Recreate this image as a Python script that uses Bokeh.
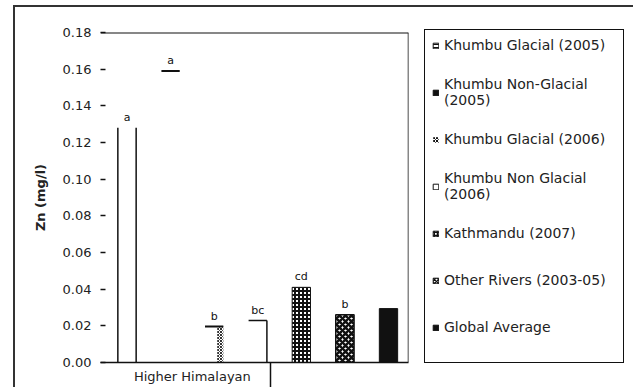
from bokeh.plotting import figure
from bokeh.models import Range1d, FixedTicker, Span, Legend, LegendItem, ColumnDataSource
from bokeh.core.properties import value
from bokeh.embed import file_html
from bokeh.resources import INLINE

# ---- data ----
series = [
    "Khumbu Glacial (2005)",
    "Khumbu Non-Glacial\n(2005)",
    "Khumbu Glacial (2006)",
    "Khumbu Non Glacial\n(2006)",
    "Kathmandu (2007)",
    "Other Rivers (2003-05)",
    "Global Average",
]
zn = [0.128, 0.159, 0.0196, 0.0229, 0.041, 0.026, 0.0294]
letters = ["a", "a", "b", "bc", "cd", "b", ""]
group_label = "Higher Himalayan"
group_size = 4
y_ticks = [0.00, 0.02, 0.04, 0.06, 0.08, 0.10, 0.12, 0.14, 0.16, 0.18]
y_tick_labels = ["0.00", "0.02", "0.04", "0.06", "0.08", "0.10", "0.12", "0.14", "0.16", "0.18"]

FONT = "DejaVu Sans"
INK = "#111111"
xs = list(range(1, len(zn) + 1))
W = 0.42

p = figure(frame_width=308, frame_height=330, output_backend="svg", toolbar_location=None,
           x_range=Range1d(0.392, 7.459), y_range=Range1d(0, 0.18),
           min_border_left=100, min_border_right=225, min_border_top=32, min_border_bottom=25)
p.outline_line_color = None
p.grid.visible = False
p.background_fill_color = "white"
p.border_fill_color = "white"

# outer frame and legend box drawn as page decoration
p.stylesheets = ["""
:host { position: relative; }
:host::before { content: ""; position: absolute; left: 13px; top: 5px; width: 620px; height: 382px;
  border-left: 2px solid #333333; border-top: 2px solid #333333; box-sizing: border-box;
  pointer-events: none; z-index: 10; }
:host::after { content: ""; position: absolute; left: 424px; top: 29px; width: 200px; height: 334px;
  border: 1.5px solid #111111; box-sizing: border-box; pointer-events: none; z-index: 10; }
"""]

# y axis
yax = p.yaxis[0]
yax.ticker = FixedTicker(ticks=y_ticks)
yax.major_label_overrides = dict(zip(y_ticks, y_tick_labels))
yax.axis_line_color = None
yax.major_tick_in = 5
yax.major_tick_out = 0
yax.major_tick_line_width = 1.5
yax.major_tick_line_color = INK
yax.minor_tick_line_color = None
yax.major_label_standoff = 9
yax.major_label_text_font = FONT
yax.major_label_text_font_size = "13px"
yax.major_label_text_color = "#222222"
yax.axis_label = "Zn (mg/l)"
yax.axis_label_text_font = FONT
yax.axis_label_text_font_size = "13px"
yax.axis_label_text_font_style = "bold"
yax.axis_label_text_color = "#222222"
yax.axis_label_standoff = 12

# x axis: one group label plus a separator line below the axis
xax = p.xaxis[0]
group_center = (1 + group_size) / 2
separator = group_size + 0.29
xax.ticker = FixedTicker(ticks=[group_center], minor_ticks=[separator])
xax.major_label_overrides = {group_center: group_label}
xax.axis_line_width = 1.5
xax.axis_line_color = INK
xax.major_tick_line_color = None
xax.major_tick_in = 0
xax.major_tick_out = 0
xax.minor_tick_in = 0
xax.minor_tick_out = 25
xax.minor_tick_line_width = 1.5
xax.minor_tick_line_color = INK
xax.major_label_standoff = -19
xax.major_label_text_font = FONT
xax.major_label_text_font_size = "13px"
xax.major_label_text_color = "#222222"

# frame top and right lines
p.add_layout(Span(location=y_ticks[-1], dimension="width", line_color=INK, line_width=2))
p.add_layout(Span(location=7.459, dimension="height", line_color=INK, line_width=1.5))

# ---- bars ----
p.segment(x0=[xs[0] - W / 2, xs[0] + W / 2], y0=[0, 0],
          x1=[xs[0] - W / 2, xs[0] + W / 2], y1=[zn[0], zn[0]], line_color=INK, line_width=1.5)
p.segment(x0=[xs[1] - W / 2], y0=[zn[1]], x1=[xs[1] + W / 2], y1=[zn[1]], line_color=INK, line_width=2)
p.vbar(x=[xs[2] + W / 3], top=[zn[2]], width=W / 3, fill_color="white", line_color=None,
       hatch_pattern="diagonal_cross", hatch_scale=3, hatch_weight=1, hatch_color="#333333")
p.segment(x0=[xs[2] - W / 2], y0=[zn[2]], x1=[xs[2] + W / 2], y1=[zn[2]], line_color=INK, line_width=2)
p.segment(x0=[xs[3] - W / 2, xs[3] + W / 2], y0=[zn[3], 0],
          x1=[xs[3] + W / 2, xs[3] + W / 2], y1=[zn[3], zn[3]], line_color=INK, line_width=1.5)
p.vbar(x=[xs[4]], top=[zn[4]], width=W, fill_color="white", line_color=INK, line_width=1,
       hatch_pattern="cross", hatch_scale=4, hatch_weight=2, hatch_color=INK)
p.vbar(x=[xs[5]], top=[zn[5]], width=W, fill_color="white", line_color=INK, line_width=1.5,
       hatch_pattern="diagonal_cross", hatch_scale=6, hatch_weight=2.5, hatch_color=INK)
p.vbar(x=[xs[6]], top=[zn[6]], width=W, fill_color=INK, line_color=INK)

p.text(x=xs, y=zn, text=letters, text_align="center", text_baseline="bottom", y_offset=-4,
       text_font=value(FONT), text_font_size="11px", text_color=INK)

# ---- legend (hidden swatch renderers; legend still draws their symbols) ----
swatch_styles = [
    dict(fill_color="white", line_color=INK, hatch_pattern="horizontal_line", hatch_scale=3, hatch_color=INK),
    dict(fill_color=INK, line_color=INK),
    dict(fill_color="white", line_color=None, hatch_pattern="diagonal_cross", hatch_scale=3, hatch_weight=1, hatch_color=INK),
    dict(fill_color="white", line_color=INK),
    dict(fill_color="white", line_color=INK, hatch_pattern="cross", hatch_scale=3, hatch_weight=1.5, hatch_color=INK),
    dict(fill_color="white", line_color=INK, hatch_pattern="diagonal_cross", hatch_scale=4, hatch_weight=1.5, hatch_color=INK),
    dict(fill_color=INK, line_color=INK),
]
src = ColumnDataSource(dict(x=xs, top=zn))
items = []
for i, (name, st) in enumerate(zip(series, swatch_styles)):
    r = p.vbar(x="x", top="top", width=W, source=src, visible=False, **st)
    items.append(LegendItem(label=name, renderers=[r], index=i))

legend = Legend(items=items, location=(24, 18), orientation="vertical",
                border_line_color=None, background_fill_alpha=0,
                label_text_font=FONT, label_text_font_size="14px", label_text_color="#222222",
                glyph_width=7, glyph_height=7, label_standoff=5, padding=0,
                spacing=13, label_height=34)
p.add_layout(legend, "right")

open("out.html", "w").write(file_html(p, INLINE))
